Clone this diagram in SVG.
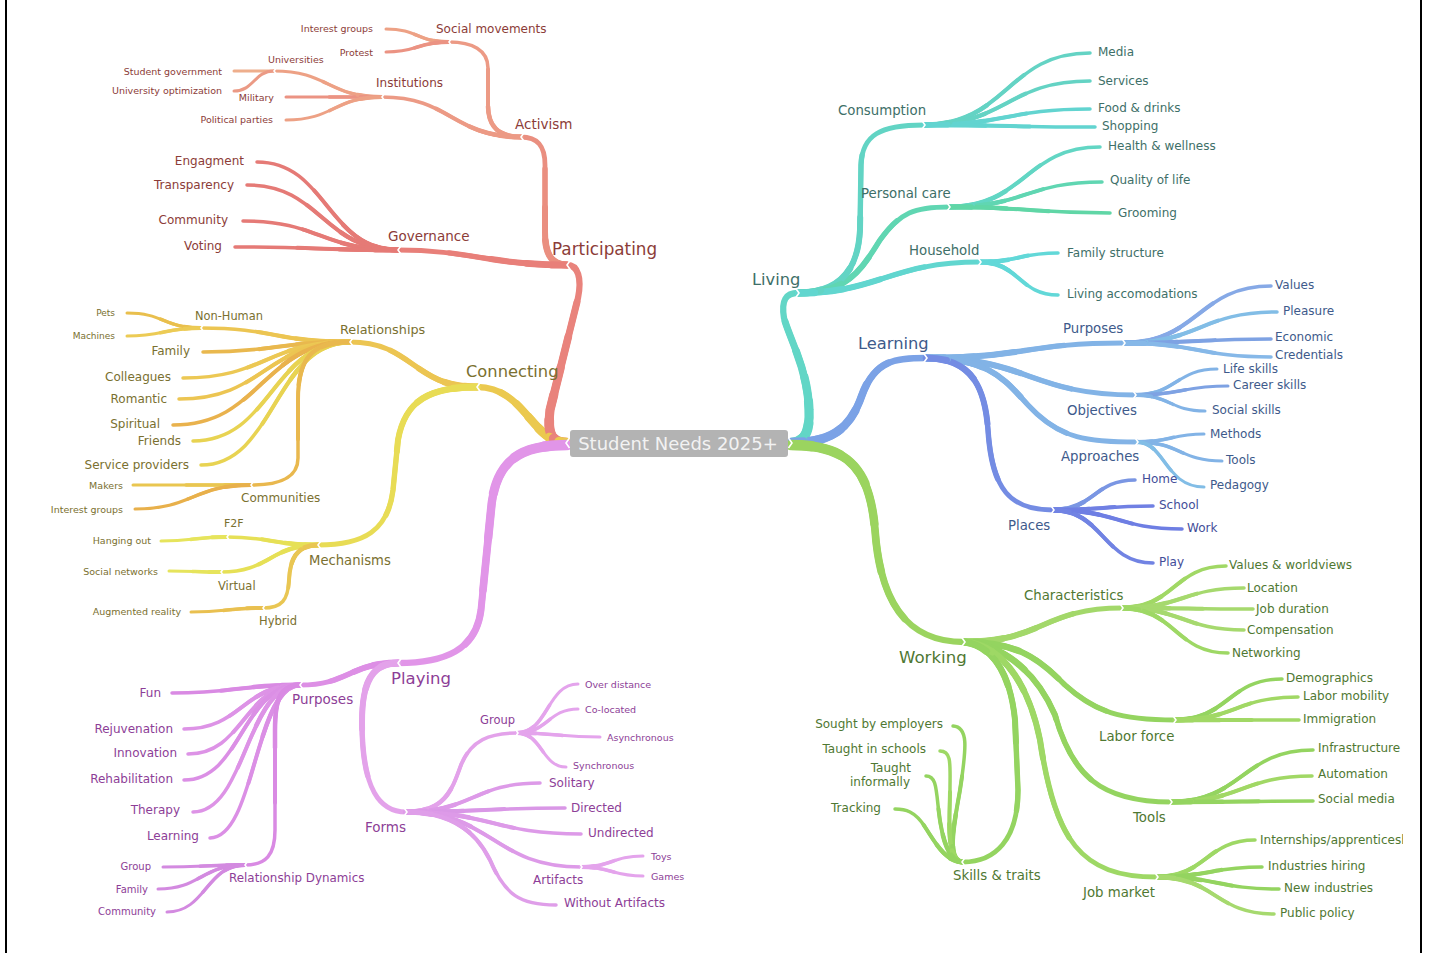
<svg xmlns="http://www.w3.org/2000/svg" xmlns:xlink="http://www.w3.org/1999/xlink" width="1429" height="953" viewBox="0 0 1429 953">
<style>
text{font-family:"DejaVu Sans","Liberation Sans",sans-serif;dominant-baseline:central}
.e{fill:none;stroke-linecap:round;stroke-linejoin:round}
.L1{font-size:16.3px}.L2{font-size:13.3px}.L3{font-size:12px}.L4{font-size:9.5px}
.tr{fill:#8c3c38}.ty{fill:#7a7030}.tp{fill:#8d3e97}.tt{fill:#3e6f68}.tb{fill:#3e5a8b}.tbp{fill:#434d99}.tg{fill:#4f7832}
.end{text-anchor:end}
.n{fill:none;stroke:#fff;stroke-width:1.6;stroke-linejoin:miter}
.frame{stroke:#000;stroke-width:2}
</style>
<defs>
<path id="nl" d="M3.5,-5 L0,0 L3.5,5"/>
<path id="nr" d="M-3.5,-5 L0,0 L-3.5,5"/>
<clipPath id="clipR"><rect x="0" y="0" width="1403" height="953"/></clipPath>
</defs>
<rect width="1429" height="953" fill="#fff"/>
<line class="frame" x1="6" y1="0" x2="6" y2="953"/>
<line class="frame" x1="1421" y1="0" x2="1421" y2="953"/>

<g id="connectors" class="e">
<g stroke-width="6.3"><g id="E1">
<path pathLength="100" stroke="#e9837c" d="M567,443 C 548,443 548,428 550,410 L 578,298 C 582,278 578,265 567,265"/>
<path pathLength="100" stroke="#ebc94f" d="M567,443 C 532,443 525,387 477,387"/>
<path pathLength="100" stroke="#e195e8" d="M567,445 C 520,445 495,460 491,510 L 481,610 C 476,650 445,663 398,663"/>
<path pathLength="100" stroke="#62d6c6" d="M791,443 C 805,443 810,430 809,410 C 808,370 790,340 784,318 C 781,300 786,293 798,293"/>
<path pathLength="100" stroke="#7ba2e6" d="M791,443 C 830,443 850,430 862,395 C 875,360 895,358 926,358"/>
<path pathLength="100" stroke="#9bd45f" d="M791,445 C 850,445 870,470 875,530 C 880,600 905,642 964,642"/>
</g></g>
<use href="#E1" stroke-width="7" stroke-dasharray="78 200"/>
<use href="#E1" stroke-width="7.7" stroke-dasharray="60 200"/>
<use href="#E1" stroke-width="8.4" stroke-dasharray="44 200"/>
<use href="#E1" stroke-width="9.1" stroke-dasharray="30 200"/>
<use href="#E1" stroke-width="9.8" stroke-dasharray="17 200"/>
<use href="#E1" stroke-width="10.5" stroke-dasharray="7 200"/>

<g stroke-width="4.8"><g id="E2">
<path pathLength="100" stroke="#ea8f80" d="M567,265 C 550,265 545,252 545,232 L 545,165 C 545,146 538,137 521,137"/>
<path pathLength="100" stroke="#e87f79" d="M567,265 C 490,265 470,250 398,250"/>
<path pathLength="100" stroke="#ecc552" d="M477,387 C 413,387 413,342 350,342"/>
<path pathLength="100" stroke="#e8dc55" d="M477,387 C 430,387 405,400 398,440 L 393,490 C 388,530 365,545 318,545"/>
<path pathLength="100" stroke="#dd8fe5" d="M398,663 C 349,663 349,685 300,685"/>
<path pathLength="100" stroke="#e3a2ea" d="M398,663 C 372,663 362,682 362,722 C 362,790 380,812 406,812"/>
<path pathLength="100" stroke="#62d4c4" d="M798,293 C 840,293 858,270 860,230 L 861,165 C 862,135 880,125 924,125"/>
<path pathLength="100" stroke="#60d6b2" d="M798,293 C 850,293 862,268 880,240 C 900,212 915,207 949,207"/>
<path pathLength="100" stroke="#61d6cf" d="M798,293 C 880,293 890,262 980,262"/>
<path pathLength="100" stroke="#82b3e6" d="M926,358 C 1025,358 1025,343 1124,343"/>
<path pathLength="100" stroke="#82b3e6" d="M926,358 C 1030,358 1030,395 1135,395"/>
<path pathLength="100" stroke="#82b3e6" d="M926,358 C 990,358 1005,380 1028,405 C 1060,440 1090,442 1137,442"/>
<path pathLength="100" stroke="#748ce3" d="M926,358 C 970,358 985,385 988,430 C 992,490 1010,510 1053,510"/>
<path pathLength="100" stroke="#a3d86a" d="M964,642 C 1043,642 1043,608 1122,608"/>
<path pathLength="100" stroke="#94d460" d="M964,642 C 1020,642 1040,660 1065,685 C 1095,712 1120,720 1175,720"/>
<path pathLength="100" stroke="#94d460" d="M964,642 C 1010,645 1040,680 1055,715 C 1072,775 1100,802 1171,802"/>
<path pathLength="100" stroke="#9ed865" d="M964,642 C 1005,645 1030,690 1040,740 C 1055,840 1080,877 1157,877"/>
<path pathLength="100" stroke="#94d460" d="M964,642 C 990,645 1010,670 1015,720 L 1018,790 C 1018,840 995,862 963,862"/>
</g></g>
<use href="#E2" stroke-width="5.4" stroke-dasharray="70 200"/>
<use href="#E2" stroke-width="6" stroke-dasharray="45 200"/>
<use href="#E2" stroke-width="6.6" stroke-dasharray="24 200"/>
<use href="#E2" stroke-width="7.2" stroke-dasharray="9 200"/>

<g stroke-width="3.5"><g id="E3">
<!-- Participating -->
<path pathLength="100" stroke="#ec9a85" d="M521,137 C 497,137 488,125 488,105 L 488,68 C 488,50 472,42 449,42"/>
<path pathLength="100" stroke="#ec9a85" d="M521,137 C 452,137 451,97 382,97"/>
<path pathLength="100" stroke="#e57a76" d="M398,250 C 327,250 327,162 257,162"/>
<path pathLength="100" stroke="#e57a76" d="M398,250 C 322,250 322,185 247,185"/>
<path pathLength="100" stroke="#e57a76" d="M398,250 C 320,250 320,221 243,221"/>
<path pathLength="100" stroke="#e57a76" d="M398,250 C 316,250 316,247 235,247"/>
<!-- Connecting -->
<path pathLength="100" stroke="#ecc552" d="M350,342 C 275,342 275,328 201,328"/>
<path pathLength="100" stroke="#e9b84e" d="M350,342 C 276,342 276,352 203,352"/>
<path pathLength="100" stroke="#ecc854" d="M350,342 C 266,342 266,378 183,378"/>
<path pathLength="100" stroke="#ecc552" d="M350,342 C 265,342 265,399 179,399"/>
<path pathLength="100" stroke="#e9b24d" d="M350,342 C 262,342 262,425 173,425"/>
<path pathLength="100" stroke="#e8d352" d="M350,342 C 272,342 272,441 193,441"/>
<path pathLength="100" stroke="#e8d352" d="M350,342 C 275,342 275,465 201,465"/>
<path pathLength="100" stroke="#e9b84e" d="M350,342 C 310,342 298,360 298,400 L 298,458 C 298,478 280,485 251,485"/>
<path pathLength="100" stroke="#e6e056" d="M318,545 C 272,545 272,537 227,537"/>
<path pathLength="100" stroke="#e6e056" d="M318,545 C 270,545 270,572 221,572"/>
<path pathLength="100" stroke="#e9c653" d="M318,545 C 296,545 290,560 289,580 C 288,600 282,608 263,608"/>
<!-- Playing -->
<path pathLength="100" stroke="#d98ae3" d="M300,685 C 236,685 236,693 172,693"/>
<path pathLength="100" stroke="#dd93e6" d="M300,685 C 242,685 242,729 184,729"/>
<path pathLength="100" stroke="#dd93e6" d="M300,685 C 244,685 244,754 188,754"/>
<path pathLength="100" stroke="#db8fe5" d="M300,685 C 242,685 242,780 184,780"/>
<path pathLength="100" stroke="#dd93e6" d="M300,685 C 246,685 246,812 193,812"/>
<path pathLength="100" stroke="#db8fe5" d="M300,685 C 255,685 255,838 210,838"/>
<path pathLength="100" stroke="#d98ae3" d="M300,685 C 280,685 275,700 275,730 L 275,830 C 275,855 266,865 245,865"/>
<path pathLength="100" stroke="#e3a2ea" d="M406,812 C 445,812 452,790 461,765 C 471,740 490,733 517,733"/>
<path pathLength="100" stroke="#dd9ae8" d="M406,812 C 473,812 473,783 540,783"/>
<path pathLength="100" stroke="#d997e6" d="M406,812 C 485,812 485,808 565,808"/>
<path pathLength="100" stroke="#dd9ae8" d="M406,812 C 493,812 493,834 581,834"/>
<path pathLength="100" stroke="#dd9ae8" d="M406,812 C 493,812 493,867 581,867"/>
<path pathLength="100" stroke="#df9ee9" d="M406,812 C 450,812 475,830 490,860 C 505,895 520,905 556,905"/>
<!-- Living -->
<path pathLength="100" stroke="#64d3c4" d="M924,125 C 1007,125 1007,53 1090,53"/>
<path pathLength="100" stroke="#64d3c4" d="M924,125 C 1007,125 1007,81 1090,81"/>
<path pathLength="100" stroke="#62d4d0" d="M924,125 C 1007,125 1007,109 1090,109"/>
<path pathLength="100" stroke="#62d4d0" d="M924,125 C 1010,125 1010,127 1095,127"/>
<path pathLength="100" stroke="#62d6c4" d="M949,207 C 1025,207 1025,147 1100,147"/>
<path pathLength="100" stroke="#60d6b2" d="M949,207 C 1026,207 1026,182 1102,182"/>
<path pathLength="100" stroke="#60d6a6" d="M949,207 C 1030,207 1030,213 1110,213"/>
<path pathLength="100" stroke="#62d8d8" d="M980,262 C 1019,262 1019,253 1058,253"/>
<path pathLength="100" stroke="#62d8d8" d="M980,262 C 1019,262 1019,295 1058,295"/>
<!-- Learning -->
<path pathLength="100" stroke="#86a9e6" d="M1124,343 C 1198,343 1198,286 1271,286"/>
<path pathLength="100" stroke="#82bde6" d="M1124,343 C 1200,343 1200,312 1277,312"/>
<path pathLength="100" stroke="#7ea2e3" d="M1124,343 C 1198,343 1198,339 1271,339"/>
<path pathLength="100" stroke="#86b8e8" d="M1124,343 C 1198,343 1198,357 1271,357"/>
<path pathLength="100" stroke="#7a96e3" d="M1053,510 C 1094,510 1094,480 1135,480"/>
<path pathLength="100" stroke="#7080e3" d="M1053,510 C 1103,510 1103,506 1153,506"/>
<path pathLength="100" stroke="#6e7ee3" d="M1053,510 C 1117,510 1117,529 1182,529"/>
<path pathLength="100" stroke="#7183e3" d="M1053,510 C 1103,510 1103,563 1153,563"/>
<!-- Working -->
<path pathLength="100" stroke="#a1d865" d="M1122,608 C 1174,608 1174,566 1226,566"/>
<path pathLength="100" stroke="#a6d96e" d="M1122,608 C 1183,608 1183,588 1244,588"/>
<path pathLength="100" stroke="#a6d96e" d="M1122,608 C 1188,608 1188,609 1253,609"/>
<path pathLength="100" stroke="#a6d96e" d="M1122,608 C 1183,608 1183,630 1244,630"/>
<path pathLength="100" stroke="#9ed865" d="M1122,608 C 1175,608 1175,653 1228,653"/>
<path pathLength="100" stroke="#94d460" d="M1175,720 C 1228,720 1228,679 1282,679"/>
<path pathLength="100" stroke="#a1d865" d="M1175,720 C 1236,720 1236,697 1298,697"/>
<path pathLength="100" stroke="#a1d865" d="M1175,720 C 1237,720 1237,720 1299,720"/>
<path pathLength="100" stroke="#94d460" d="M1171,802 C 1242,802 1242,750 1313,750"/>
<path pathLength="100" stroke="#a1d865" d="M1171,802 C 1242,802 1242,776 1312,776"/>
<path pathLength="100" stroke="#94d460" d="M1171,802 C 1242,802 1242,801 1313,801"/>
<path pathLength="100" stroke="#9ed865" d="M1157,877 C 1206,877 1206,840 1255,840"/>
<path pathLength="100" stroke="#94d460" d="M1157,877 C 1210,877 1210,867 1262,867"/>
<path pathLength="100" stroke="#94d460" d="M1157,877 C 1218,877 1218,889 1279,889"/>
<path pathLength="100" stroke="#a6d96e" d="M1157,877 C 1215,877 1215,914 1274,914"/>
<path pathLength="100" stroke="#94d460" d="M963,862 C 945,862 955,820 960,790 C 967,745 968,727 953,726"/>
<path pathLength="100" stroke="#9ed865" d="M963,862 C 945,862 950,815 950,790 C 950,765 952,751 940,751"/>
<path pathLength="100" stroke="#94d460" d="M963,862 C 945,862 940,825 938,805 C 936,785 935,776 926,776"/>
<path pathLength="100" stroke="#94d460" d="M963,862 C 945,862 935,842 925,827 C 915,811 905,809 895,809"/>
</g></g>
<use href="#E3" stroke-width="4" stroke-dasharray="62 200"/>
<use href="#E3" stroke-width="4.5" stroke-dasharray="36 200"/>
<use href="#E3" stroke-width="5" stroke-dasharray="14 200"/>

<g stroke-width="3"><g id="E4">
<path pathLength="100" stroke="#eda185" d="M449,42 C 417,42 418,29 386,29"/>
<path pathLength="100" stroke="#eb9383" d="M449,42 C 417,42 418,52 386,52"/>
<path pathLength="100" stroke="#eda185" d="M382,97 C 328,97 328,71 274,71"/>
<path pathLength="100" stroke="#eb9383" d="M382,97 C 334,97 334,97 286,97"/>
<path pathLength="100" stroke="#eda185" d="M382,97 C 334,97 334,120 286,120"/>
<path pathLength="100" stroke="#e9bf4d" d="M201,328 C 164,328 164,313 127,313"/>
<path pathLength="100" stroke="#eccb55" d="M201,328 C 164,328 164,336 127,336"/>
<path pathLength="100" stroke="#e9c650" d="M251,485 L 133,485"/>
<path pathLength="100" stroke="#e8b04b" d="M251,485 C 193,485 193,509 135,509"/>
<path pathLength="100" stroke="#e6e45c" d="M227,537 C 194,537 194,541 161,541"/>
<path pathLength="100" stroke="#e6e45c" d="M221,572 C 195,572 195,571 169,571"/>
<path pathLength="100" stroke="#e9c050" d="M263,608 C 227,608 227,612 191,612"/>
<path pathLength="100" stroke="#d38ae0" d="M245,865 C 204,865 204,867 163,867"/>
<path pathLength="100" stroke="#d38ae0" d="M245,865 C 201,865 201,889 158,889"/>
<path pathLength="100" stroke="#d38ae0" d="M245,865 C 206,865 206,912 167,912"/>
<path pathLength="100" stroke="#e4a4ec" d="M517,733 C 548,733 547,684 578,684"/>
<path pathLength="100" stroke="#e4a4ec" d="M517,733 C 548,733 548,709 578,709"/>
<path pathLength="100" stroke="#e4a4ec" d="M517,733 C 558,733 558,737 600,737"/>
<path pathLength="100" stroke="#e4a4ec" d="M517,733 C 542,733 542,767 566,767"/>
<path pathLength="100" stroke="#e4a4ec" d="M581,867 C 612,867 612,856 643,856"/>
<path pathLength="100" stroke="#e4a4ec" d="M581,867 C 612,867 612,876 643,876"/>
<path pathLength="100" stroke="#82b3e6" d="M1135,395 C 1176,395 1176,369 1217,369"/>
<path pathLength="100" stroke="#7ea2e3" d="M1135,395 C 1182,395 1182,386 1228,386"/>
<path pathLength="100" stroke="#82b3e6" d="M1135,395 C 1170,395 1170,411 1205,411"/>
<path pathLength="100" stroke="#82b3e6" d="M1137,442 C 1171,442 1171,434 1204,434"/>
<path pathLength="100" stroke="#82b3e6" d="M1137,442 C 1180,442 1180,461 1222,461"/>
<path pathLength="100" stroke="#82bde6" d="M1137,442 C 1165,442 1165,487 1204,487"/>
</g></g>
<use href="#E4" stroke-width="3.5" stroke-dasharray="55 200"/>
<use href="#E4" stroke-width="4" stroke-dasharray="22 200"/>

<g stroke-width="3">
<path stroke="#eeae8c" d="M274,71 L 234,71"/>
<path stroke="#eb9a85" d="M274,71 C 254,71 254,91 234,91"/>
</g>
</g>

<g id="root">
<rect x="570" y="430" width="218" height="27" rx="3" fill="#b3b3b3"/>
<text x="678" y="443" font-size="18" fill="#f2f2f2" text-anchor="middle">Student Needs 2025+</text>
<use href="#nl" class="n" x="566" y="443"/>
<use href="#nr" class="n" x="792" y="443"/>
</g>

<!-- Participating -->
<g id="participating"><text class="tr" font-size="16.8" x="552" y="249">Participating</text><use href="#nl" class="n" x="567" y="265"/></g>
<g id="activism"><text class="tr" font-size="13.5" x="515" y="124">Activism</text><use href="#nl" class="n" x="521" y="137"/></g>
<g id="governance"><text class="tr" font-size="13.5" x="388" y="236">Governance</text><use href="#nl" class="n" x="398" y="250"/></g>
<g id="social-movements"><text class="tr" font-size="12" x="436" y="29">Social movements</text><use href="#nl" class="n" x="449" y="42"/></g>
<g id="institutions"><text class="tr" font-size="12" x="376" y="83">Institutions</text><use href="#nl" class="n" x="382" y="97"/></g>
<g id="interest-groups-1"><text class="L4 tr end" x="373" y="28">Interest groups</text></g>
<g id="protest"><text class="L4 tr end" x="373" y="52">Protest</text></g>
<g id="universities"><text class="L4 tr" x="268" y="59">Universities</text><use href="#nl" class="n" x="274" y="71"/></g>
<g id="military"><text class="L4 tr end" x="274" y="97">Military</text></g>
<g id="political-parties"><text class="L4 tr end" x="273" y="119">Political parties</text></g>
<g id="student-government"><text class="L4 tr end" x="222" y="71">Student government</text></g>
<g id="university-optimization"><text class="L4 tr end" x="222" y="90">University optimization</text></g>
<g id="engagment"><text class="L3 tr end" x="244" y="161">Engagment</text></g>
<g id="transparency"><text class="L3 tr end" x="234" y="185">Transparency</text></g>
<g id="community-1"><text class="L3 tr end" x="228" y="220">Community</text></g>
<g id="voting"><text class="L3 tr end" x="222" y="246">Voting</text></g>

<!-- Connecting -->
<g id="connecting"><text class="L1 ty" x="466" y="371">Connecting</text><use href="#nl" class="n" x="477" y="387"/></g>
<g id="relationships"><text class="ty" font-size="12.8" x="340" y="329">Relationships</text><use href="#nl" class="n" x="350" y="342"/></g>
<g id="mechanisms"><text class="ty" font-size="13.2" x="309" y="560">Mechanisms</text><use href="#nl" class="n" x="318" y="545"/></g>
<g id="non-human"><text class="ty" font-size="11.4" x="195" y="316">Non-Human</text><use href="#nl" class="n" x="201" y="328"/></g>
<g id="pets"><text class="ty end" font-size="9" x="115" y="313">Pets</text></g>
<g id="machines"><text class="ty end" font-size="9" x="115" y="336">Machines</text></g>
<g id="family-1"><text class="L3 ty end" x="190" y="351">Family</text></g>
<g id="colleagues"><text class="L3 ty end" x="171" y="377">Colleagues</text></g>
<g id="romantic"><text class="L3 ty end" x="167" y="399">Romantic</text></g>
<g id="spiritual"><text class="L3 ty end" x="160" y="424">Spiritual</text></g>
<g id="friends"><text class="L3 ty end" x="181" y="441">Friends</text></g>
<g id="service-providers"><text class="L3 ty end" x="189" y="465">Service providers</text></g>
<g id="communities"><text class="L3 ty" x="241" y="498">Communities</text><use href="#nl" class="n" x="251" y="485"/></g>
<g id="makers"><text class="L4 ty end" x="123" y="485">Makers</text></g>
<g id="interest-groups-2"><text class="L4 ty end" x="123" y="509">Interest groups</text></g>
<g id="f2f"><text class="ty" font-size="11" x="224" y="523">F2F</text><use href="#nl" class="n" x="227" y="537"/></g>
<g id="hanging-out"><text class="L4 ty end" x="151" y="540">Hanging out</text></g>
<g id="virtual"><text class="ty" font-size="11.5" x="218" y="586">Virtual</text><use href="#nl" class="n" x="221" y="572"/></g>
<g id="social-networks"><text class="L4 ty end" x="158" y="571">Social networks</text></g>
<g id="hybrid"><text class="ty" font-size="11.5" x="259" y="621">Hybrid</text><use href="#nl" class="n" x="263" y="608"/></g>
<g id="augmented-reality"><text class="L4 ty end" x="181" y="611">Augmented reality</text></g>

<!-- Playing -->
<g id="playing"><text class="tp" font-size="16.5" x="391" y="678">Playing</text><use href="#nl" class="n" x="398" y="663"/></g>
<g id="purposes-1"><text class="tp" font-size="13.5" x="292" y="699">Purposes</text><use href="#nl" class="n" x="300" y="685"/></g>
<g id="forms"><text class="tp" font-size="13.5" x="365" y="827">Forms</text><use href="#nr" class="n" x="407" y="812"/></g>
<g id="fun"><text class="L3 tp end" x="161" y="693">Fun</text></g>
<g id="rejuvenation"><text class="L3 tp end" x="173" y="729">Rejuvenation</text></g>
<g id="innovation"><text class="L3 tp end" x="177" y="753">Innovation</text></g>
<g id="rehabilitation"><text class="L3 tp end" x="173" y="779">Rehabilitation</text></g>
<g id="therapy"><text class="L3 tp end" x="180" y="810">Therapy</text></g>
<g id="learning-1"><text class="L3 tp end" x="199" y="836">Learning</text></g>
<g id="relationship-dynamics"><text class="tp" font-size="11.9" x="229" y="878">Relationship Dynamics</text><use href="#nl" class="n" x="245" y="865"/></g>
<g id="group-1"><text class="tp end" font-size="10" x="151" y="866">Group</text></g>
<g id="family-2"><text class="tp end" font-size="10" x="148" y="889">Family</text></g>
<g id="community-2"><text class="tp end" font-size="10" x="156" y="911">Community</text></g>
<g id="group-2"><text class="tp" font-size="11.5" x="480" y="720">Group</text><use href="#nr" class="n" x="518" y="733"/></g>
<g id="over-distance"><text class="L4 tp" x="585" y="684">Over distance</text></g>
<g id="co-located"><text class="L4 tp" x="585" y="709">Co-located</text></g>
<g id="asynchronous"><text class="L4 tp" x="607" y="737">Asynchronous</text></g>
<g id="synchronous"><text class="L4 tp" x="573" y="765">Synchronous</text></g>
<g id="solitary"><text class="L3 tp" x="549" y="783">Solitary</text></g>
<g id="directed"><text class="L3 tp" x="571" y="808">Directed</text></g>
<g id="undirected"><text class="L3 tp" x="588" y="833">Undirected</text></g>
<g id="artifacts"><text class="L3 tp" x="533" y="880">Artifacts</text><use href="#nr" class="n" x="582" y="867"/></g>
<g id="toys"><text class="L4 tp" x="651" y="856">Toys</text></g>
<g id="games"><text class="L4 tp" x="651" y="876">Games</text></g>
<g id="without-artifacts"><text class="L3 tp" x="564" y="903">Without Artifacts</text></g>

<!-- Living -->
<g id="living"><text class="L1 tt" x="752" y="279">Living</text><use href="#nr" class="n" x="799" y="293"/></g>
<g id="consumption"><text class="L2 tt" x="838" y="110">Consumption</text><use href="#nr" class="n" x="925" y="125"/></g>
<g id="personal-care"><text class="L2 tt" x="861" y="193">Personal care</text><use href="#nr" class="n" x="950" y="207"/></g>
<g id="household"><text class="L2 tt" x="909" y="250">Household</text><use href="#nr" class="n" x="981" y="262"/></g>
<g id="media"><text class="L3 tt" x="1098" y="52">Media</text></g>
<g id="services"><text class="L3 tt" x="1098" y="81">Services</text></g>
<g id="food-drinks"><text class="L3 tt" x="1098" y="108">Food &amp; drinks</text></g>
<g id="shopping"><text class="L3 tt" x="1102" y="126">Shopping</text></g>
<g id="health-wellness"><text class="L3 tt" x="1108" y="146">Health &amp; wellness</text></g>
<g id="quality-of-life"><text class="L3 tt" x="1110" y="180">Quality of life</text></g>
<g id="grooming"><text class="L3 tt" x="1118" y="213">Grooming</text></g>
<g id="family-structure"><text class="L3 tt" x="1067" y="253">Family structure</text></g>
<g id="living-accomodations"><text class="L3 tt" x="1067" y="294">Living accomodations</text></g>

<!-- Learning -->
<g id="learning"><text class="L1 tb" x="858" y="343">Learning</text><use href="#nr" class="n" x="927" y="358"/></g>
<g id="purposes-2"><text class="L2 tb" x="1063" y="328">Purposes</text><use href="#nr" class="n" x="1125" y="343"/></g>
<g id="objectives"><text class="L2 tb" x="1067" y="410">Objectives</text><use href="#nr" class="n" x="1136" y="395"/></g>
<g id="approaches"><text class="L2 tb" x="1061" y="456">Approaches</text><use href="#nr" class="n" x="1138" y="442"/></g>
<g id="places"><text class="L2 tb" x="1008" y="525">Places</text><use href="#nr" class="n" x="1054" y="510"/></g>
<g id="values"><text class="L3 tb" x="1275" y="285">Values</text></g>
<g id="pleasure"><text class="L3 tb" x="1283" y="311">Pleasure</text></g>
<g id="economic"><text class="L3 tb" x="1275" y="337">Economic</text></g>
<g id="credentials"><text class="L3 tb" x="1275" y="355">Credentials</text></g>
<g id="life-skills"><text class="L3 tb" x="1223" y="369">Life skills</text></g>
<g id="career-skills"><text class="L3 tb" x="1233" y="385">Career skills</text></g>
<g id="social-skills"><text class="L3 tb" x="1212" y="410">Social skills</text></g>
<g id="methods"><text class="L3 tb" x="1210" y="434">Methods</text></g>
<g id="tools-1"><text class="L3 tb" x="1226" y="460">Tools</text></g>
<g id="pedagogy"><text class="L3 tb" x="1210" y="485">Pedagogy</text></g>
<g id="home"><text class="L3 tbp" x="1142" y="479">Home</text></g>
<g id="school"><text class="L3 tbp" x="1159" y="505">School</text></g>
<g id="work"><text class="L3 tbp" x="1187" y="528">Work</text></g>
<g id="play"><text class="L3 tbp" x="1159" y="562">Play</text></g>

<!-- Working -->
<g id="working"><text class="tg" font-size="16.6" x="899" y="657">Working</text><use href="#nr" class="n" x="965" y="642"/></g>
<g id="characteristics"><text class="L2 tg" x="1024" y="595">Characteristics</text><use href="#nr" class="n" x="1123" y="608"/></g>
<g id="labor-force"><text class="L2 tg" x="1099" y="736">Labor force</text><use href="#nr" class="n" x="1176" y="720"/></g>
<g id="tools-2"><text class="L2 tg" x="1133" y="817">Tools</text><use href="#nr" class="n" x="1172" y="802"/></g>
<g id="job-market"><text class="L2 tg" x="1083" y="892">Job market</text><use href="#nr" class="n" x="1158" y="877"/></g>
<g id="skills-traits"><text class="L2 tg" x="953" y="875">Skills &amp; traits</text><use href="#nl" class="n" x="962" y="862"/></g>
<g id="values-worldviews"><text class="L3 tg" x="1229" y="565">Values &amp; worldviews</text></g>
<g id="location"><text class="L3 tg" x="1247" y="588">Location</text></g>
<g id="job-duration"><text class="L3 tg" x="1256" y="609">Job duration</text></g>
<g id="compensation"><text class="L3 tg" x="1247" y="630">Compensation</text></g>
<g id="networking"><text class="L3 tg" x="1232" y="653">Networking</text></g>
<g id="demographics"><text class="L3 tg" x="1286" y="678">Demographics</text></g>
<g id="labor-mobility"><text class="L3 tg" x="1303" y="696">Labor mobility</text></g>
<g id="immigration"><text class="L3 tg" x="1303" y="719">Immigration</text></g>
<g id="infrastructure"><text class="L3 tg" x="1318" y="748">Infrastructure</text></g>
<g id="automation"><text class="L3 tg" x="1318" y="774">Automation</text></g>
<g id="social-media"><text class="L3 tg" x="1318" y="799">Social media</text></g>
<g id="internships"><text class="L3 tg" x="1260" y="840" clip-path="url(#clipR)">Internships/apprenticeships</text></g>
<g id="industries-hiring"><text class="L3 tg" x="1268" y="866">Industries hiring</text></g>
<g id="new-industries"><text class="L3 tg" x="1284" y="888">New industries</text></g>
<g id="public-policy"><text class="L3 tg" x="1280" y="913">Public policy</text></g>
<g id="sought-by-employers"><text class="L3 tg end" x="943" y="724">Sought by employers</text></g>
<g id="taught-in-schools"><text class="L3 tg end" x="926" y="749">Taught in schools</text></g>
<g id="taught-informally"><text class="L3 tg end" x="911" y="768">Taught</text><text class="L3 tg end" x="910" y="782">informally</text></g>
<g id="tracking"><text class="L3 tg end" x="881" y="808">Tracking</text></g>
</svg>
